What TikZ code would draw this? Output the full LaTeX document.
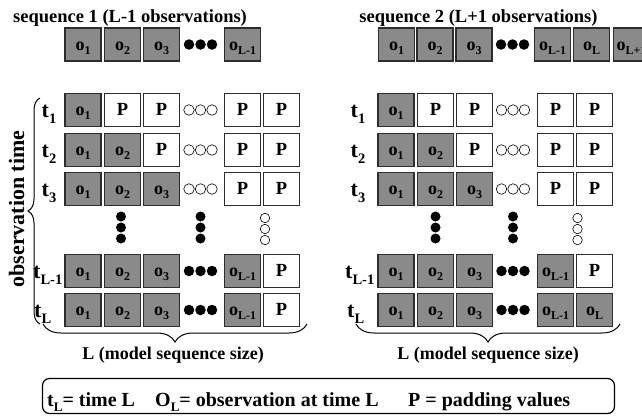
\documentclass[tikz,border=0pt]{standalone}
\usepackage{fontspec}
\setmainfont{Liberation Serif}
\usetikzlibrary{decorations.pathreplacing}
\definecolor{boxgrey}{RGB}{138,138,138}
\definecolor{boxline}{RGB}{45,45,45}
\newcommand{\obs}[1]{o\raisebox{-4pt}{\fontsize{12}{12}\selectfont #1}}
\newcommand{\rowlab}[1]{t\raisebox{-6pt}{\fontsize{14.5}{14.5}\selectfont #1}}
\newcommand{\legsub}[1]{\raisebox{-5pt}{\fontsize{13}{13}\selectfont #1}}
\newcommand{\threeh}[4]{\node[#4] (#1a) at (#2-11.5,#3) {}; \node[#4] (#1b) at (#2,#3) {}; \node[#4] (#1c) at (#2+11.5,#3) {};}
\newcommand{\threev}[4]{\node[#4] (#1a) at (#2,#3-11) {}; \node[#4] (#1b) at (#2,#3) {}; \node[#4] (#1c) at (#2,#3+11) {};}
\tikzset{
 cell/.style={draw=boxline, line width=1.2pt, minimum width=36pt, minimum height=33pt, inner sep=0pt, text height=11.5pt, text depth=0pt, font=\bfseries\fontsize{18}{18}\selectfont},
 obscell/.style={cell, fill=boxgrey},
 padcell/.style={cell, fill=white, font=\bfseries\fontsize{18.5}{18.5}\selectfont},
 fdot/.style={circle, fill=black, inner sep=0pt, minimum size=10.5pt},
 odot/.style={circle, draw=black, line width=0.6pt, inner sep=0pt, minimum size=10.5pt},
 fvdot/.style={circle, fill=black, inner sep=0pt, minimum size=10pt},
 ovdot/.style={circle, draw=black, line width=0.6pt, inner sep=0pt, minimum size=9.5pt},
 rowlabel/.style={font=\bfseries\fontsize{22}{22}\selectfont, inner sep=0pt, anchor=base},
 bigtext/.style={font=\bfseries\fontsize{18.5}{20}\selectfont, inner sep=0pt, anchor=base},
 legtext/.style={font=\bfseries\fontsize{20}{22}\selectfont, inner sep=0pt, anchor=base west},
 brc/.style={decorate, decoration={brace, amplitude=#1}, line width=1pt},
}
\begin{document}
\begin{tikzpicture}[x=1pt,y=-1pt]
\useasboundingbox (0,0) rectangle (642,416);
\clip (0,0) rectangle (642,416);

% titles
\node[bigtext] (title1) at (130,22) {sequence 1 (L-1 observations)};
\node[bigtext] (title2) at (478.5,22) {sequence 2 (L+1 observations)};

% top sequence 1
\node[obscell] (s1o1) at (83,44.5) {\obs{1}};
\node[obscell] (s1o2) at (122.5,44.5) {\obs{2}};
\node[obscell] (s1o3) at (161.5,44.5) {\obs{3}};
\threeh{s1d}{200.5}{44.5}{fdot}
\node[obscell] (s1oL1) at (242.5,44.5) {\obs{L-1}};

% top sequence 2
\node[obscell] (s2o1) at (396.5,44.5) {\obs{1}};
\node[obscell] (s2o2) at (435,44.5) {\obs{2}};
\node[obscell] (s2o3) at (474,44.5) {\obs{3}};
\threeh{s2d}{512.5}{44.5}{fdot}
\node[obscell] (s2oL1) at (552.5,44.5) {\obs{L-1}};
\node[obscell] (s2oL) at (591.5,44.5) {\obs{L}};
\node[obscell] (s2oL2) at (631.5,44.5) {\obs{L+1}};

% ---------- left grid ----------
\node[rowlabel] (lt1) at (49,117) {\rowlab{1}};
\node[rowlabel] (lt2) at (49,157) {\rowlab{2}};
\node[rowlabel] (lt3) at (49,196) {\rowlab{3}};
\node[rowlabel, anchor=base west] (ltL1) at (33,278) {\rowlab{L-1}};
\node[rowlabel, anchor=base west] (ltL) at (34,317) {\rowlab{L}};

% row 1
\node[obscell] (a11) at (83,110) {\obs{1}};
\node[padcell] (a12) at (122.5,110) {P};
\node[padcell] (a13) at (161.5,110) {P};
\threeh{a1d}{200.5}{110}{odot}
\node[padcell] (a15) at (242.5,110) {P};
\node[padcell] (a16) at (281.5,110) {P};
% row 2
\node[obscell] (a21) at (83,150) {\obs{1}};
\node[obscell] (a22) at (122.5,150) {\obs{2}};
\node[padcell] (a23) at (161.5,150) {P};
\threeh{a2d}{200.5}{150}{odot}
\node[padcell] (a25) at (242.5,150) {P};
\node[padcell] (a26) at (281.5,150) {P};
% row 3
\node[obscell] (a31) at (83,189) {\obs{1}};
\node[obscell] (a32) at (122.5,189) {\obs{2}};
\node[obscell] (a33) at (161.5,189) {\obs{3}};
\threeh{a3d}{200.5}{189}{odot}
\node[padcell] (a35) at (242.5,189) {P};
\node[padcell] (a36) at (281.5,189) {P};
% vertical dots
\threev{av1}{121}{227.5}{fvdot}
\threev{av2}{200.5}{227.5}{fvdot}
\threev{av3}{265}{229}{ovdot}
% row L-1
\node[obscell] (a41) at (83,271) {\obs{1}};
\node[obscell] (a42) at (122.5,271) {\obs{2}};
\node[obscell] (a43) at (161.5,271) {\obs{3}};
\threeh{a4d}{200.5}{271}{fdot}
\node[obscell] (a45) at (242.5,271) {\obs{L-1}};
\node[padcell] (a46) at (281.5,271) {P};
% row L
\node[obscell] (a51) at (83,310) {\obs{1}};
\node[obscell] (a52) at (122.5,310) {\obs{2}};
\node[obscell] (a53) at (161.5,310) {\obs{3}};
\threeh{a5d}{200.5}{310}{fdot}
\node[obscell] (a55) at (242.5,310) {\obs{L-1}};
\node[padcell] (a56) at (281.5,310) {P};

% ---------- right grid ----------
\node[rowlabel] (rt1) at (358,117) {\rowlab{1}};
\node[rowlabel] (rt2) at (358,157) {\rowlab{2}};
\node[rowlabel] (rt3) at (358,196) {\rowlab{3}};
\node[rowlabel, anchor=base west] (rtL1) at (345,278) {\rowlab{L-1}};
\node[rowlabel, anchor=base west] (rtL) at (347,317) {\rowlab{L}};

\node[obscell] (b11) at (396,110) {\obs{1}};
\node[padcell] (b12) at (435.5,110) {P};
\node[padcell] (b13) at (474.5,110) {P};
\threeh{b1d}{513}{110}{odot}
\node[padcell] (b15) at (555.5,110) {P};
\node[padcell] (b16) at (594.5,110) {P};

\node[obscell] (b21) at (396,150) {\obs{1}};
\node[obscell] (b22) at (435.5,150) {\obs{2}};
\node[padcell] (b23) at (474.5,150) {P};
\threeh{b2d}{513}{150}{odot}
\node[padcell] (b25) at (555.5,150) {P};
\node[padcell] (b26) at (594.5,150) {P};

\node[obscell] (b31) at (396,189) {\obs{1}};
\node[obscell] (b32) at (435.5,189) {\obs{2}};
\node[obscell] (b33) at (474.5,189) {\obs{3}};
\threeh{b3d}{513}{189}{odot}
\node[padcell] (b35) at (555.5,189) {P};
\node[padcell] (b36) at (594.5,189) {P};

\threev{bv1}{435.5}{227.5}{fvdot}
\threev{bv2}{513}{227.5}{fvdot}
\threev{bv3}{577.5}{229}{ovdot}

\node[obscell] (b41) at (396,271) {\obs{1}};
\node[obscell] (b42) at (435.5,271) {\obs{2}};
\node[obscell] (b43) at (474.5,271) {\obs{3}};
\threeh{b4d}{513}{271}{fdot}
\node[obscell] (b45) at (555.5,271) {\obs{L-1}};
\node[padcell] (b46) at (594.5,271) {P};

\node[obscell] (b51) at (396,310) {\obs{1}};
\node[obscell] (b52) at (435.5,310) {\obs{2}};
\node[obscell] (b53) at (474.5,310) {\obs{3}};
\threeh{b5d}{513}{310}{fdot}
\node[obscell] (b55) at (555.5,310) {\obs{L-1}};
\node[obscell] (b56) at (594.5,310) {\obs{L}};

% braces
\coordinate (vbBot) at (40,324);
\coordinate (vbTop) at (40,98);
\draw[brc=12] (vbBot) -- (vbTop);
\node[font=\bfseries\fontsize{22}{22}\selectfont, inner sep=0pt, rotate=90, anchor=base] (obstime) at (24,209) {observation time};

\coordinate (lbR) at (307,324);
\coordinate (lbL) at (43,324);
\draw[brc=18] (lbR) -- (lbL);
\coordinate (rbR) at (620,324);
\coordinate (rbL) at (356,324);
\draw[brc=18] (rbR) -- (rbL);
\node[bigtext, font=\bfseries\fontsize{18}{20}\selectfont] (size1) at (173,359) {L (model sequence size)};
\node[bigtext, font=\bfseries\fontsize{18}{20}\selectfont] (size2) at (488,359) {L (model sequence size)};

% legend
\node[draw=black, line width=1.2pt, rounded corners=7pt, minimum width=572pt, minimum height=35pt, inner sep=0pt] (legend) at (328.5,396) {};
\node[legtext] (legt) at (47,406) {t\legsub{L}= time L};
\node[legtext] (lego) at (155,406) {O\legsub{L}= observation at time L};
\node[legtext] (legp) at (408,406) {P = padding values};
\end{tikzpicture}
\end{document}
